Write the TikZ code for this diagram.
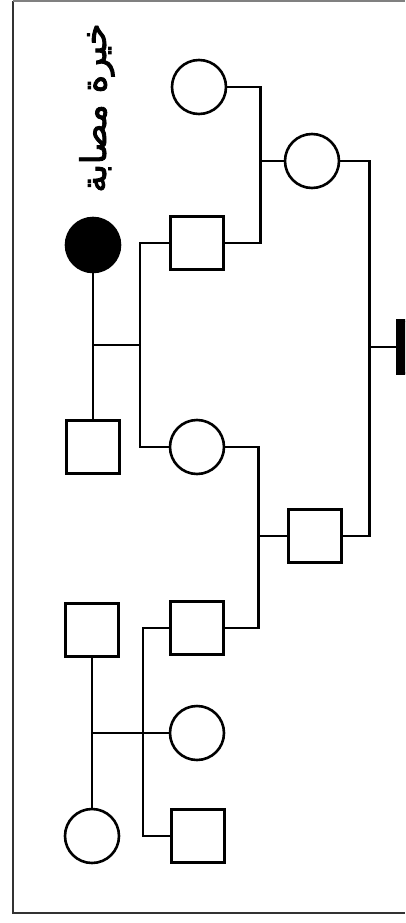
\documentclass[tikz,border=0pt]{standalone}
\usepackage{fontspec}
\newfontfamily\arabicfont[Script=Arabic,FakeBold=2.5]{DejaVu Sans}
\TeXXeTstate=1
\begin{document}
\begin{tikzpicture}[x=1pt,y=-1pt,
  male/.style={draw=black,line width=2.6pt,minimum size=53pt,inner sep=0pt,rectangle},
  female/.style={draw=black,line width=2.6pt,minimum size=54pt,inner sep=0pt,circle},
  affected/.style={fill=black},
  link/.style={draw=black,line width=2.4pt},
  frame/.style={draw=black!80,line width=2.6pt}]
\useasboundingbox (0,0) rectangle (405,923);
\clip (0,0) rectangle (405,923);
\fill[white] (0,0) rectangle (405,923);
% frame
\draw[frame] (405,913) -- (13,913) -- (13,1);
\draw[draw=black!50,line width=1.4pt] (13,1) -- (405,1);
% label
\node[rotate=90,inner sep=0pt] (lab) at (97,108) {\fontsize{35}{35}\selectfont\arabicfont\beginR خيرة مصابة\endR};
% individuals
\node[female] (a) at (199,87) {};
\node[female] (b) at (312,161) {};
\node[male] (c) at (197,243) {};
\node[female,affected] (d) at (93,245) {};
\node[male] (e) at (93,447) {};
\node[female] (g) at (197,447) {};
\node[male] (h) at (315,536) {};
\node[male,affected] (f) at (424,347) {};
\node[male] (i) at (92,630) {};
\node[male] (j) at (197,628) {};
\node[female] (k) at (197,733) {};
\node[female] (l) at (92,836) {};
\node[male] (m) at (198,836) {};
% junction points
\coordinate (v1) at (260,161);
\coordinate (v2) at (368,347);
\coordinate (v3) at (257,536);
\coordinate (p1) at (93,345);
\coordinate (p2) at (141,345);
\coordinate (p3) at (92,733);
% connectors
\draw[link] (a.east) -- ++(33,0) |- (c.east);
\draw[link] (v1) -- (b.west);
\draw[link] (b.east) -- ++(29,0) |- (h.east);
\draw[link] (v2) -- (f.west);
\draw[link] (c.west) -- ++(-29,0) |- (g.west);
\draw[link] (d.south) -- (e.north);
\draw[link] (p1) -- (p2);
\draw[link] (g.east) -- ++(33,0) |- (j.east);
\draw[link] (v3) -- (h.west);
\draw[link] (j.west) -- ++(-26,0) |- (m.west);
\draw[link] (i.south) -- (l.north);
\draw[link] (p3) -- (k.west);
\end{tikzpicture}
\end{document}
